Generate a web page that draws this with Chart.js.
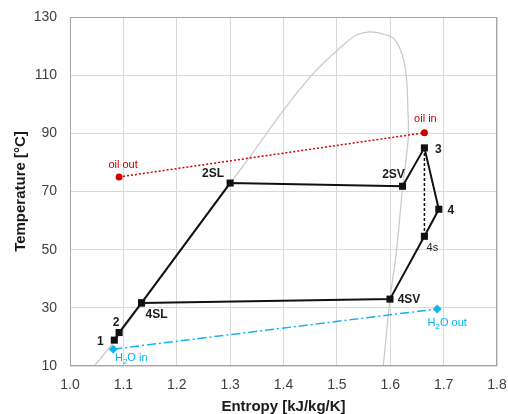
<!DOCTYPE html>
<html>
<head>
<meta charset="utf-8">
<script src="https://cdn.jsdelivr.net/npm/chart.js@4"></script>
<style>
  html, body { margin: 0; padding: 0; background: #ffffff; }
  #wrap { width: 508px; height: 414px; }
</style>
</head>
<body>
<div id="wrap"><canvas id="tsChart" width="508" height="414"></canvas></div>
<script>
// Data (entropy kJ/kg/K, temperature °C)
var cycleNames = ["1", "2", "4SL", "2SL", "2SV", "3", "4", "4s", "4SV", "4SL"];
var cycleS = [1.083, 1.092, 1.134, 1.300, 1.623, 1.664, 1.691, 1.664, 1.5995, 1.134];
var cycleT = [18.9, 21.5, 31.7, 72.9, 71.8, 85.0, 63.9, 54.6, 33.0, 31.7];

// isentropic expansion 3 -> 4s
var isenS = [1.664, 1.664];
var isenT = [85.0, 54.6];

// saturation dome
var domeS = [1.0455, 1.083, 1.134, 1.300, 1.337, 1.400, 1.453, 1.481, 1.512, 1.537, 1.562, 1.587, 1.606, 1.618, 1.626, 1.631, 1.633, 1.634, 1.629, 1.6233, 1.612, 1.5995, 1.587];
var domeT = [10, 18.5, 31.3, 72.9, 81.9, 98, 110, 115.2, 120.4, 123.8, 124.9, 124.1, 122.7, 119.2, 114.6, 107.7, 98.6, 89.4, 80, 71.8, 50, 33.0, 10];

// heat source / sink
var oilNames = ["oil out", "oil in"];
var oilS = [1.092, 1.664];
var oilT = [75.0, 90.2];
var waterNames = ["H2O in", "H2O out"];
var waterS = [1.081, 1.688];
var waterT = [15.8, 29.6];

// axis ticks
var xMin = 1.0, xMax = 1.8, xStep = 0.1;
var yMin = 10, yMax = 130, yStep = 20;

function toPoints(xs, ys) {
  return xs.map(function (x, i) { return { x: x, y: ys[i] }; });
}

var FONT = "'Liberation Sans', Arial, sans-serif";

// label offsets in pixels from their point
var cycleLabelStyle = {
  "1": { dx: -14, dy: 2, bold: true },
  "2": { dx: -3, dy: -10, bold: true },
  "4SL": { dx: 15, dy: 12, bold: true },
  "2SL": { dx: -17, dy: -9, bold: true },
  "2SV": { dx: -9, dy: -12, bold: true },
  "3": { dx: 14, dy: 2, bold: true },
  "4": { dx: 12, dy: 1, bold: true },
  "4s": { dx: 8, dy: 12, bold: false },
  "4SV": { dx: 19, dy: 1, bold: true }
};

// draws labels next to points and the plot frame
var labelPlugin = {
  id: "labelPlugin",
  afterDatasetsDraw: function (chart) {
    var ctx = chart.ctx;
    var xs = chart.scales.x, ys = chart.scales.y;
    var a = chart.chartArea;
    ctx.save();
    ctx.strokeStyle = "#a6a6a6";
    ctx.lineWidth = 1;
    ctx.strokeRect(a.left + 0.5, a.top + 0.5, a.right - a.left - 1, a.bottom - a.top - 1);

    ctx.textAlign = "center";
    ctx.textBaseline = "middle";
    var done = {};
    cycleNames.forEach(function (n, i) {
      if (done[n]) return;
      done[n] = true;
      var st = cycleLabelStyle[n];
      ctx.fillStyle = "#1a1a1a";
      ctx.font = (st.bold ? "bold 12px " : "11px ") + FONT;
      ctx.fillText(n, xs.getPixelForValue(cycleS[i]) + st.dx, ys.getPixelForValue(cycleT[i]) + st.dy);
    });

    ctx.fillStyle = "#c00000";
    ctx.font = "11px " + FONT;
    ctx.fillText(oilNames[0], xs.getPixelForValue(oilS[0]) + 4, ys.getPixelForValue(oilT[0]) - 12);
    ctx.fillText(oilNames[1], xs.getPixelForValue(oilS[1]) + 1, ys.getPixelForValue(oilT[1]) - 14);

    // H2O with subscript
    ctx.fillStyle = "#00b0f0";
    var offs = [[18, 9], [10, 14]];
    waterNames.forEach(function (n, i) {
      var rest = n.replace("H2O", "");
      var cx = xs.getPixelForValue(waterS[i]) + offs[i][0];
      var cy = ys.getPixelForValue(waterT[i]) + offs[i][1];
      ctx.font = "11px " + FONT;
      var wH = ctx.measureText("H").width;
      var wO = ctx.measureText("O" + rest).width;
      ctx.font = "8px " + FONT;
      var w2 = ctx.measureText("2").width;
      var x0 = cx - (wH + w2 + wO) / 2;
      ctx.textAlign = "left";
      ctx.font = "11px " + FONT;
      ctx.fillText("H", x0, cy);
      ctx.font = "8px " + FONT;
      ctx.fillText("2", x0 + wH, cy + 4);
      ctx.font = "11px " + FONT;
      ctx.fillText("O" + rest, x0 + wH + w2, cy);
    });
    ctx.restore();
  }
};

var ctx = document.getElementById("tsChart").getContext("2d");
var chart = new Chart(ctx, {
  type: "scatter",
  data: {
    datasets: [
      {
        label: "dome",
        order: 5,
        data: toPoints(domeS, domeT),
        showLine: true,
        borderColor: "#c8c8c8",
        borderWidth: 1.2,
        pointRadius: 0,
        tension: 0.3,
        fill: false
      },
      {
        label: "oil",
        order: 3,
        data: toPoints(oilS, oilT),
        showLine: true,
        borderColor: "#d00000",
        backgroundColor: "#d00000",
        borderWidth: 1.5,
        borderDash: [2, 2],
        pointRadius: 3.5,
        pointStyle: "circle",
        pointBorderWidth: 0
      },
      {
        label: "water",
        order: 3,
        data: toPoints(waterS, waterT),
        showLine: true,
        borderColor: "#10b4f0",
        backgroundColor: "#10b4f0",
        borderWidth: 1.5,
        borderDash: [9, 3, 2, 3],
        pointRadius: 4.5,
        pointStyle: "rectRot",
        pointBorderWidth: 0
      },
      {
        label: "isentropic",
        order: 2,
        data: toPoints(isenS, isenT),
        showLine: true,
        borderColor: "#111111",
        borderWidth: 1.5,
        borderDash: [3, 2],
        pointRadius: 0
      },
      {
        label: "cycle",
        order: 1,
        data: toPoints(cycleS, cycleT),
        showLine: true,
        borderColor: "#111111",
        backgroundColor: "#111111",
        borderWidth: 2,
        pointStyle: "rect",
        pointRadius: 5,
        pointBorderWidth: 0
      }
    ]
  },
  options: {
    responsive: false,
    animation: false,
    events: [],
    layout: { padding: { left: 0, right: 11, top: 17, bottom: 0 } },
    plugins: {
      legend: { display: false },
      tooltip: { enabled: false }
    },
    scales: {
      x: {
        type: "linear",
        min: xMin,
        max: xMax,
        afterFit: function (s) {
          s.height = 48;
          s.paddingLeft = 0; s.paddingRight = 0;
        },
        afterBuildTicks: function (s) {
          var t = [];
          for (var v = xMin; v <= xMax + 1e-9; v += xStep) t.push({ value: Math.round(v * 10) / 10 });
          s.ticks = t;
        },
        ticks: {
          padding: 11,
          color: "#404040",
          font: { family: FONT, size: 14 },
          callback: function (v) { return v.toFixed(1); }
        },
        grid: { color: "#d9d9d9", drawTicks: false },
        border: { display: false },
        title: {
          display: true,
          text: "Entropy [kJ/kg/K]",
          color: "#1a1a1a",
          font: { family: FONT, size: 15, weight: "bold", lineHeight: 1 },
          padding: { top: 0, bottom: 0 }
        }
      },
      y: {
        type: "linear",
        min: yMin,
        max: yMax,
        afterFit: function (s) {
          s.width = 70;
          s.paddingTop = 0; s.paddingBottom = 0;
        },
        afterBuildTicks: function (s) {
          var t = [];
          for (var v = yMin; v <= yMax; v += yStep) t.push({ value: v });
          s.ticks = t;
        },
        ticks: {
          padding: 13,
          color: "#404040",
          font: { family: FONT, size: 14 }
        },
        grid: { color: "#d9d9d9", drawTicks: false },
        border: { display: false },
        title: {
          display: true,
          text: "Temperature [°C]",
          color: "#1a1a1a",
          font: { family: FONT, size: 15, weight: "bold", lineHeight: 1 },
          padding: { top: 13, bottom: 0 }
        }
      }
    }
  },
  plugins: [labelPlugin]
});
</script>
</body>
</html>
